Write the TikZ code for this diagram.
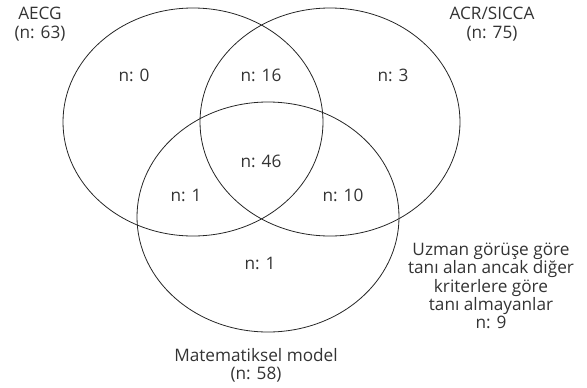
\documentclass[tikz,border=0pt]{standalone}
\usepackage{fontspec}
\setmainfont{Open Sans}
\usepackage{tikz}
\usetikzlibrary{positioning}

\tikzset{
    setcircle/.style={line width=0.8pt, black!85},
    countlabel/.style={font=\fontsize{17.2}{18.3}\selectfont, text=black!80, inner sep=0pt},
    setlabel/.style={countlabel, align=center}
}

\begin{document}
\begin{tikzpicture}[x=1pt, y=-1pt]
    \useasboundingbox (0,0) rectangle (587,388);

    % Three overlapping sets
    \draw[setcircle] (193,122) ellipse [x radius=130pt, y radius=114pt];
    \draw[setcircle] (330,122) ellipse [x radius=130pt, y radius=114pt];
    \draw[setcircle] (268,217) ellipse [x radius=131pt, y radius=115pt];

    % Set names
    \node[setlabel] (aecg) at (40,24) {AECG\\(n: 63)};
    \node[setlabel] (acr) at (492,24) {ACR/SICCA\\(n: 75)};
    \node[setlabel] (matmodel) at (256,365) {Matematiksel model\\(n: 58)};

    % Region counts
    \node[countlabel] (onlyA) at (134,75) {n: 0};
    \node[countlabel] (AB) at (261,75) {n: 16};
    \node[countlabel] (onlyB) at (393,75) {n: 3};
    \node[countlabel] (ABC) at (261,161) {n: 46};
    \node[countlabel] (AC) at (186,195) {n: 1};
    \node[countlabel] (BC) at (343,195) {n: 10};
    \node[countlabel] (onlyC) at (260,263) {n: 1};

    % Cases outside all three sets
    \node[setlabel] (expert) at (491,286)
        {Uzman görüşe göre\\tanı alan ancak diğer\\kriterlere göre\\tanı almayanlar\\n: 9};
\end{tikzpicture}
\end{document}
